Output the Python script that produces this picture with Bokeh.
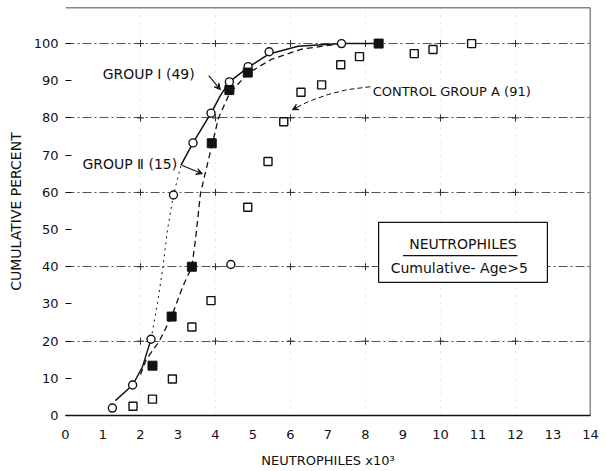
import numpy as np
from bokeh.plotting import figure
from bokeh.models import Range1d, FixedTicker, Span, Arrow, VeeHead, ColumnDataSource
from bokeh.core.properties import value
from bokeh.embed import file_html
from bokeh.resources import INLINE

# ---------------- data ----------------
# Group I (49) - open circles
g1_x = [1.25, 1.79, 2.28, 2.88, 3.40, 3.88, 4.37, 4.87, 5.43, 7.36]
g1_y = [2.0, 8.2, 20.5, 59.3, 73.3, 81.3, 89.7, 93.8, 97.8, 100.0]
# stray open circle on the 40 % line
stray_x = [4.41]
stray_y = [40.6]
# Group II (15) - filled squares
g2_x = [2.32, 2.83, 3.37, 3.90, 4.37, 4.86, 8.35]
g2_y = [13.4, 26.6, 40.0, 73.2, 87.5, 92.2, 100.0]
# Control group A (91) - open squares
ca_x = [1.80, 2.32, 2.85, 3.37, 3.88, 4.86, 5.40, 5.82, 6.28, 6.83, 7.34, 7.84, 9.30, 9.80, 10.83]
ca_y = [2.5, 4.4, 9.8, 23.8, 30.9, 56.0, 68.3, 79.0, 86.9, 88.9, 94.3, 96.5, 97.3, 98.4, 100.0]

# fitted curves (traced)
g1_low_x = [1.33, 1.79, 2.05, 2.28]
g1_low_y = [4.0, 8.2, 13.0, 20.5]
g1_mid_x = [2.28, 2.45, 2.60, 2.72, 2.88, 3.08]
g1_mid_y = [20.5, 30.0, 40.0, 50.0, 59.3, 67.3]
g1_up_x = [3.08, 3.40, 3.88, 4.13, 4.37, 4.87, 5.43, 6.20, 7.36, 8.35]
g1_up_y = [67.3, 73.3, 81.3, 86.0, 89.7, 93.6, 97.2, 99.3, 100.0, 100.0]
g2_cx = [2.00, 2.15, 2.50, 2.83, 3.12, 3.37, 3.47, 3.60, 3.77, 3.92, 4.08, 4.37, 4.86, 5.50, 6.30, 7.36]
g2_cy = [11.0, 15.0, 20.0, 26.6, 34.5, 40.0, 47.6, 59.7, 67.0, 73.3, 80.0, 86.5, 92.0, 95.8, 98.5, 100.0]
ctrl_lead_x = [8.13, 7.50, 7.00, 6.50, 6.20]
ctrl_lead_y = [88.4, 87.6, 86.3, 84.5, 83.0]

x_ticks = list(range(0, 15))
y_ticks = list(range(0, 101, 10))
grid_y = [20, 40, 60, 80, 100]
grid_x_marks = [2, 4, 6, 8, 10, 12]

X_MAX = 14
Y_MAX = 109.7

p = figure(width=606, height=471, output_backend="svg", toolbar_location=None,
           x_range=Range1d(0, X_MAX), y_range=Range1d(0, Y_MAX),
           min_border_left=65, min_border_right=16, min_border_top=7, min_border_bottom=56)
p.outline_line_color = None
p.background_fill_color = "white"

FONT = "DejaVu Sans"
INK = "#111111"

# axes
p.xaxis.ticker = FixedTicker(ticks=x_ticks)
p.yaxis.ticker = FixedTicker(ticks=y_ticks)
for ax in (p.xaxis[0], p.yaxis[0]):
    ax.major_label_text_font = FONT
    ax.major_label_text_font_size = "13px"
    ax.major_label_text_color = INK
    ax.axis_label_text_font = FONT
    ax.axis_label_text_font_style = "normal"
    ax.axis_label_text_color = INK
    ax.minor_tick_line_color = None
p.xaxis.axis_line_color = INK
p.xaxis.axis_line_width = 1.5
p.xaxis.major_tick_line_color = None
p.xaxis.major_label_standoff = 8
p.xaxis.axis_label = "NEUTROPHILES x10³"
p.xaxis.axis_label_text_font_size = "13px"
p.xaxis.axis_label_standoff = 11

p.yaxis.axis_line_color = None
p.yaxis.major_tick_in = 6
p.yaxis.major_tick_out = 0
p.yaxis.major_tick_line_color = INK
p.yaxis.major_tick_line_width = 1.2
p.yaxis.major_label_standoff = 7
p.yaxis.axis_label = "CUMULATIVE PERCENT"
p.yaxis.axis_label_text_font_size = "14px"
p.yaxis.axis_label_standoff = 7

# grid
p.ygrid.ticker = FixedTicker(ticks=grid_y)
p.ygrid.grid_line_color = "#555555"
p.ygrid.grid_line_dash = "9 3 2 3"
p.ygrid.grid_line_width = 1
p.xgrid.ticker = FixedTicker(ticks=grid_x_marks)
p.xgrid.grid_line_color = "#999999"
p.xgrid.grid_line_alpha = 0.45
p.xgrid.grid_line_dash = "1 6"

# frame top and right edges
p.add_layout(Span(location=Y_MAX, dimension="width", line_color=INK, line_width=1.5))
p.add_layout(Span(location=X_MAX, dimension="height", line_color=INK, line_width=1.5))

# small crosses on gridlines
gx, gy = np.meshgrid(grid_x_marks, grid_y)
p.scatter(gx.ravel(), gy.ravel(), marker="cross", size=7, line_color="#333333", line_width=1)

# curves
p.line(g1_low_x, g1_low_y, line_color=INK, line_width=1.4)
p.line(g1_mid_x, g1_mid_y, line_color=INK, line_width=1.0, line_dash="2 4")
p.line(g1_up_x, g1_up_y, line_color=INK, line_width=1.5)
p.line(g2_cx, g2_cy, line_color=INK, line_width=1.3, line_dash="6 4")
p.line(ctrl_lead_x, ctrl_lead_y, line_color=INK, line_width=1.0, line_dash="5 3")

# legend box
box_l, box_r, box_b, box_t = [8.35], [12.85], [35.8], [51.9]
p.quad(left=box_l, right=box_r, bottom=box_b, top=box_t,
       fill_color="white", line_color=INK, line_width=1.2)
p.line([9.0, 12.05], [43.0, 43.0], line_color=INK, line_width=1.2)

# markers
p.scatter(ca_x, ca_y, marker="square", size=8, fill_color="white", line_color=INK, line_width=1.4)
p.scatter(g1_x, g1_y, marker="circle", size=8, fill_color="white", line_color=INK, line_width=1.4)
p.scatter(stray_x, stray_y, marker="circle", size=8, fill_color="white", line_color=INK, line_width=1.4)
p.scatter(g2_x, g2_y, marker="square", size=9, fill_color=INK, line_color=INK, line_width=1)

# leaders
p.add_layout(Arrow(x_start=3.82, y_start=91.4, x_end=4.13, y_end=87.6,
                   line_color=INK, line_width=1.1,
                   end=VeeHead(size=6, line_color=INK, line_width=1, fill_color=INK)))
p.add_layout(Arrow(x_start=3.10, y_start=67.3, x_end=3.65, y_end=65.0,
                   line_color=INK, line_width=1.1,
                   end=VeeHead(size=6, line_color=INK, line_width=1, fill_color=INK)))
p.add_layout(Arrow(x_start=6.20, y_start=83.0, x_end=6.05, y_end=82.2,
                   line_color=INK, line_width=1.0,
                   end=VeeHead(size=6, line_color=INK, line_width=1, fill_color=INK)))

# annotation texts
grp_src = ColumnDataSource(dict(
    x=[0.99, 0.45],
    y=[91.7, 67.6],
    t=["GROUP Ⅰ  (49)", "GROUP Ⅱ (15)"],
))
p.text(x="x", y="y", text="t", source=grp_src, text_font=value(FONT),
       text_font_size="14px", text_color=INK, text_align="left", text_baseline="middle")
p.text(x=[8.19], y=[87.0], text=["CONTROL  GROUP A (91)"], text_font=value(FONT),
       text_font_size="13px", text_color=INK, text_align="left", text_baseline="middle")
p.text(x=[10.6], y=[46.2], text=["NEUTROPHILES"], text_font=value(FONT),
       text_font_size="14px", text_color=INK, text_align="center", text_baseline="middle")
p.text(x=[10.5], y=[39.6], text=["Cumulative- Age>5"], text_font=value(FONT),
       text_font_size="14px", text_color=INK, text_align="center", text_baseline="middle")

open("out.html", "w").write(file_html(p, INLINE))
